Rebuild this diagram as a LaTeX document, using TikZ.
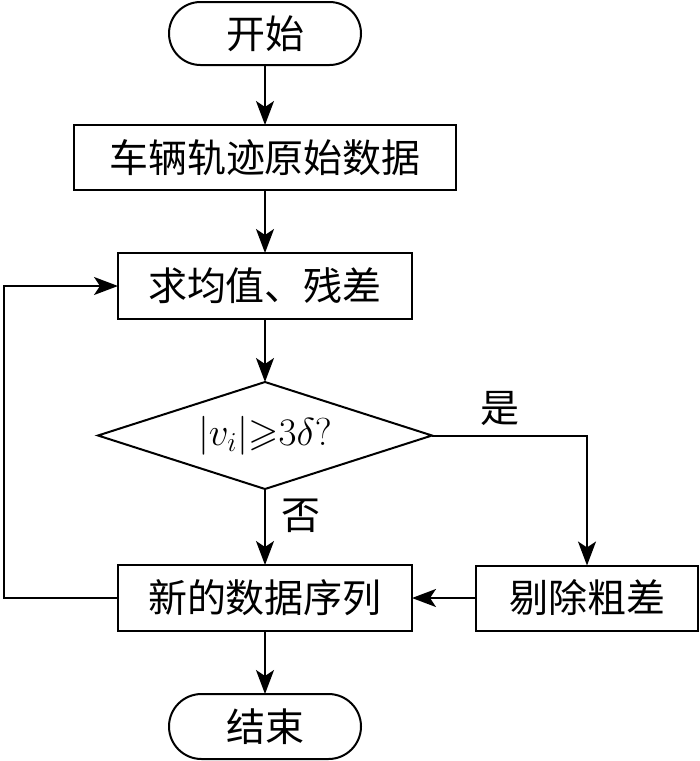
\RequirePackage{fix-cm}
\documentclass[tikz,border=0pt]{standalone}
\usepackage{amssymb}
\usepackage{fontspec}
\newfontfamily\cjk{Noto Sans CJK SC}
\usetikzlibrary{positioning,shapes.geometric,arrows.meta}

\begin{document}
\begin{tikzpicture}[x=0.5pt, y=-0.5pt, node distance=31.5pt, line width=1pt,
  font=\cjk\fontsize{19.5}{23}\selectfont,
  every node/.style={inner sep=0pt, outer sep=0pt},
  arrow/.style={-{Stealth[length=12pt, width=9pt, inset=3pt]}},
  terminal/.style={rectangle, rounded corners=15.75pt, draw, minimum width=96pt, minimum height=31.5pt},
  process/.style={rectangle, draw, minimum height=32.5pt},
  decision/.style={diamond, aspect=3.12, draw, minimum width=167pt, minimum height=53.5pt},
  branch/.style={inner sep=3pt}]

  \useasboundingbox (0,0) rectangle (700,761);

  % Main column
  \node[terminal] (Start) at (265,33.5) {开始};
  \node[process, minimum width=191pt, below=30pt of Start] (RawData) {车辆轨迹原始数据};
  \node[process, minimum width=147pt, minimum height=33pt, below=of RawData] (MeanResidual) {求均值、残差};
  \node[decision, below=of MeanResidual] (Check) {$|v_i|{\geqslant}3\delta?$};
  \node[process, minimum width=147pt, minimum height=33pt, below=38pt of Check] (NewSeries) {新的数据序列};
  \node[terminal, minimum height=32.5pt, rounded corners=16.25pt, below=of NewSeries] (End) {结束};

  % Side box for rejected values
  \node[process, minimum width=111pt, right=32pt of NewSeries] (Reject) {剔除粗差};

  % Loop corner
  \coordinate (LoopCorner) at (4,0);

  % Edges
  \draw[arrow] (Start) -- (RawData);
  \draw[arrow] (RawData) -- (MeanResidual);
  \draw[arrow] (MeanResidual) -- (Check);
  \draw[arrow] (Check) -- node[branch, right, pos=0.35, inner sep=8pt] {否} (NewSeries);
  \draw[arrow] (Check.east) -| node[branch, above, pos=0.22, yshift=2pt] {是} (Reject.north);
  \draw[arrow] (Reject) -- (NewSeries);
  \draw[arrow] (NewSeries) -- (End);
  \draw[arrow] (NewSeries.west) -- (NewSeries.west -| LoopCorner) |- (MeanResidual.west);

\end{tikzpicture}
\end{document}
